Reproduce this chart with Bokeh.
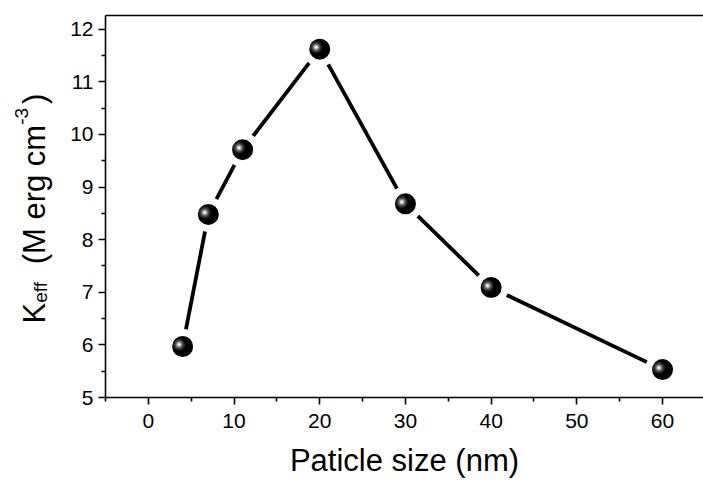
from math import pi
from bokeh.plotting import figure
from bokeh.layouts import row
from bokeh.models import ColumnDataSource, LinearAxis, Label, FixedTicker, Range1d
from bokeh.transform import dodge
from bokeh.embed import file_html
from bokeh.resources import INLINE

# ---- data ----
size_nm = [4, 7, 11, 20, 30, 40, 60]
keff = [5.97, 8.48, 9.71, 11.62, 8.68, 7.09, 5.53]
x_ticks = [0, 10, 20, 30, 40, 50, 60]
y_ticks = [5, 6, 7, 8, 9, 10, 11, 12]
x_title = "Paticle size (nm)"

FONT = "Liberation Sans"
TICK_FS = "21px"
TITLE_FS = 31

x_minor = [t - 5 for t in x_ticks] + [x_ticks[-1] + 5]
y_minor = [t + 0.5 for t in y_ticks[:-1]]

H_CANVAS = 480
LEFT_W = 60
p = figure(width=703 - LEFT_W, height=H_CANVAS,
           x_range=Range1d(-5, 64.78), y_range=Range1d(5, 12.26),
           output_backend="svg", toolbar_location=None,
           min_border_left=105 - LEFT_W, min_border_right=0,
           min_border_top=15, min_border_bottom=83)
p.background_fill_color = "white"
p.border_fill_color = "white"
p.outline_line_color = None
p.xgrid.visible = False
p.ygrid.visible = False

for ax, ticks, minor in ((p.xaxis, x_ticks, x_minor), (p.yaxis, y_ticks, y_minor)):
    ax.ticker = FixedTicker(ticks=ticks, minor_ticks=minor)
    ax.axis_line_width = 1.6
    ax.axis_line_color = "black"
    ax.major_tick_line_width = 1.6
    ax.minor_tick_line_width = 1.6
    ax.major_tick_out = 7
    ax.major_tick_in = 0
    ax.minor_tick_out = 4
    ax.minor_tick_in = 0
    ax.major_label_text_font = FONT
    ax.major_label_text_font_size = TICK_FS
    ax.major_label_text_color = "black"

p.xaxis.major_label_standoff = 9
p.yaxis.major_label_standoff = 5
p.xaxis.axis_label = x_title
p.xaxis.axis_label_text_font = FONT
p.xaxis.axis_label_text_font_size = f"{TITLE_FS}px"
p.xaxis.axis_label_text_font_style = "normal"
p.xaxis.axis_label_text_color = "black"
p.xaxis.axis_label_standoff = 12

# top border line
top = LinearAxis(ticker=FixedTicker(ticks=[]), major_label_text_font_size="0px",
                 major_tick_line_color=None, minor_tick_line_color=None,
                 axis_line_width=1.6, axis_line_color="black")
p.add_layout(top, "above")

src = ColumnDataSource(dict(x=size_nm, y=keff))
p.line("x", "y", source=src, line_color="black", line_width=3.8)
p.scatter("x", "y", source=src, size=28, fill_color="black",
          line_color="white", line_width=7)
hx = dodge("x", -0.42, range=p.x_range)
hy = dodge("y", 0.035, range=p.y_range)
for s, c in ((12, "#262626"), (9, "#474747"), (6.5, "#7a7a7a"), (4.5, "#b5b5b5"), (2.5, "#f2f2f2")):
    p.scatter(hx, hy, source=src, size=s, fill_color=c, line_color=None)

# ---- left strip holding the rotated y title: K_eff (M erg cm^-3) ----
lf = figure(frame_width=LEFT_W, frame_height=H_CANVAS, title=None,
            x_range=Range1d(0, LEFT_W), y_range=Range1d(0, H_CANVAS),
            output_backend="svg", toolbar_location=None,
            x_axis_location=None, y_axis_location=None,
            min_border=0, min_border_left=0, min_border_right=0,
            min_border_top=0, min_border_bottom=0)
lf.outline_line_color = None
lf.background_fill_color = "white"
lf.border_fill_color = "white"
lf.xgrid.visible = False
lf.ygrid.visible = False

NB = "\u00a0"
W = {'K': 667, 'e': 556, 'f': 278, NB: 278, '(': 333, 'M': 833, 'r': 333,
     'g': 556, 'c': 500, 'm': 833, '-': 333, '3': 556, ')': 333}
SMALL = 19
pieces = [("K", TITLE_FS, 0), ("eff", SMALL, 6), (f"{NB}{NB}(M{NB}erg{NB}cm", TITLE_FS, 0),
          ("-3", SMALL, -13), (")", TITLE_FS, 0)]
adv = [sum(W[ch] for ch in t) / 1000 * fs for t, fs, _ in pieces]
gap_before_paren = 4
total = sum(adv) + gap_before_paren
frame_bottom, frame_top = 397, 15
base_x = 34
cur = (frame_top + frame_bottom) / 2 + total / 2 - 13
for (t, fs, shift), a in zip(pieces, adv):
    if t == ")":
        cur -= gap_before_paren
    lf.add_layout(Label(x=base_x + shift, y=H_CANVAS - cur, text=t, angle=pi / 2,
                        text_font=FONT, text_font_size=f"{fs}px", text_color="black",
                        text_align="left", text_baseline="alphabetic"))
    cur -= a

layout = row(lf, p, spacing=0)
open("out.html", "w").write(file_html(layout, INLINE))
